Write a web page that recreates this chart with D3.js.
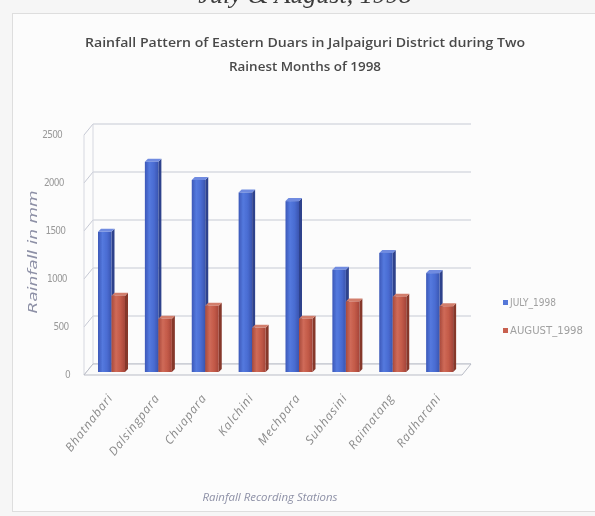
<!DOCTYPE html>
<html>
<head>
<meta charset="utf-8">
<script src="https://cdn.jsdelivr.net/npm/d3@7"></script>
<style>
  html, body { margin: 0; padding: 0; background: #f6f6f6; }
  svg { display: block; }
</style>
</head>
<body>
<div id="chart"></div>
<script>
// rainfall (mm)
const stations = ["Bhatnabari", "Dalsingpara", "Chuapara", "Kalchini", "Mechpara", "Subhasini", "Raimatang", "Radharani"]
const july = [1460, 2190, 2000, 1870, 1780, 1065, 1240, 1030]
const august = [795, 555, 690, 460, 555, 735, 785, 685]
const seriesNames = ["JULY_1998", "AUGUST_1998"]
const yTicks = [0, 500, 1000, 1500, 2000, 2500]

const width = 595
const height = 516
// 3d look: how far the back wall sits from the front edge
const depthX = 9
const depthY = -11

const svg = d3.select('#chart').append('svg')
  .attr('width', width)
  .attr('height', height)

const defs = svg.append('defs')
defs.append('filter').attr('id', 'soft')
  .append('feGaussianBlur').attr('stdDeviation', 0.4)

// horizontal gradients like the old excel columns
const grads = [
  { id: 'gBlue', stops: ['#3c58b8', '#5479de', '#4a6cd2', '#3a55b0'] },
  { id: 'gRed', stops: ['#a84a3c', '#cf6a58', '#c35a48', '#a5463a'] }
]
grads.forEach(g => {
  const lg = defs.append('linearGradient').attr('id', g.id)
    .attr('x1', 0).attr('x2', 1).attr('y1', 0).attr('y2', 0)
  g.stops.forEach((c, i) => lg.append('stop')
    .attr('offset', i / (g.stops.length - 1)).attr('stop-color', c))
})
const sideColor = ['#2e438c', '#86382c']
const topColor = ['#6f8be0', '#d27e6c']

const root = svg.append('g').attr('filter', 'url(#soft)')

// clipped caption from the page above the figure (cut off in the scan too)
root.append('text')
  .attr('x', 305).attr('y', 3)
  .attr('text-anchor', 'middle')
  .style('font', 'italic 26px "Liberation Serif", serif')
  .attr('fill', '#3a3a3a')
  .text('July & August, 1998')

// chart frame
root.append('rect')
  .attr('x', 12.5).attr('y', 13.5)
  .attr('width', 600).attr('height', 498)
  .attr('fill', '#fcfcfc')
  .attr('stroke', '#dedede')

// title
const titleLines = ['Rainfall Pattern of Eastern Duars in Jalpaiguri District during Two', 'Rainest Months of 1998']
const titleLen = [440, 152]
root.selectAll('text.title')
  .data(titleLines).enter().append('text')
  .attr('class', 'title')
  .attr('x', 305)
  .attr('y', (d, i) => 47 + i * 24)
  .attr('text-anchor', 'middle')
  .attr('textLength', (d, i) => titleLen[i])
  .attr('lengthAdjust', 'spacingAndGlyphs')
  .style('font', '600 13px "Open Sans", sans-serif')
  .attr('fill', '#4a4a4a')
  .text(d => d)

// scales
const x = d3.scaleBand()
  .domain(stations)
  .range([84, 459])
const xs = d3.scaleBand()
  .domain(seriesNames)
  .range([14, 41])
const y = d3.scaleLinear()
  .domain([0, 2500])
  .range([375, 135])

const wallLeft = 84 + depthX
const wallRight = 459 + depthX + 3

// back wall gridlines
root.selectAll('line.grid')
  .data(yTicks).enter().append('line')
  .attr('x1', wallLeft).attr('x2', wallRight)
  .attr('y1', d => y(d) + depthY).attr('y2', d => y(d) + depthY)
  .attr('stroke', '#c6c9d4')
  .attr('stroke-width', 1.2)

// side wall ticks
root.selectAll('line.side')
  .data(yTicks).enter().append('line')
  .attr('x1', 84).attr('x2', wallLeft)
  .attr('y1', d => y(d)).attr('y2', d => y(d) + depthY)
  .attr('stroke', '#c6c9d4')
root.append('line')
  .attr('x1', 84).attr('x2', 84)
  .attr('y1', y(0)).attr('y2', y(2500))
  .attr('stroke', '#d6d8e0')
root.append('line')
  .attr('x1', wallLeft).attr('x2', wallLeft)
  .attr('y1', y(0) + depthY).attr('y2', y(2500) + depthY)
  .attr('stroke', '#d6d8e0')

// floor
root.append('path')
  .attr('d', `M84,${y(0)}L${wallRight - depthX},${y(0)}L${wallRight},${y(0) + depthY}L${wallLeft},${y(0) + depthY}Z`)
  .attr('fill', '#fafafa')
  .attr('stroke', '#b9bcc6')

// y tick labels (they drift right a little towards the bottom)
root.selectAll('text.ytick')
  .data(yTicks).enter().append('text')
  .attr('class', 'ytick')
  .attr('x', d => 70 - d / 2500 * 8)
  .attr('y', d => y(d) + 3)
  .attr('text-anchor', 'end')
  .style('font', '10px "DejaVu Sans Condensed", sans-serif')
  .style('letter-spacing', '-0.8px')
  .attr('fill', '#9a9a9a')
  .text(d => d)

// bars: front face, side, top
const rows = stations.map((s, i) => ({ station: s, values: [july[i], august[i]] }))
const bw = xs.bandwidth()
const bd = 3   // bar depth
const baseOff = -3

rows.forEach(r => {
  r.values.forEach((v, k) => {
    const x0 = x(r.station) + xs(seriesNames[k])
    const yTop = y(v) + baseOff
    const yBase = y(0) + baseOff
    const g = root.append('g')
    g.append('path')
      .attr('d', `M${x0 + bw},${yTop}L${x0 + bw + bd},${yTop - bd}L${x0 + bw + bd},${yBase - bd}L${x0 + bw},${yBase}Z`)
      .attr('fill', sideColor[k])
    g.append('path')
      .attr('d', `M${x0},${yTop}L${x0 + bd},${yTop - bd}L${x0 + bw + bd},${yTop - bd}L${x0 + bw},${yTop}Z`)
      .attr('fill', topColor[k])
    g.append('rect')
      .attr('x', x0).attr('y', yTop)
      .attr('width', bw).attr('height', yBase - yTop)
      .attr('fill', k === 0 ? 'url(#gBlue)' : 'url(#gRed)')
  })
})

// category labels
root.selectAll('text.xtick')
  .data(stations).enter().append('text')
  .attr('class', 'xtick')
  .attr('transform', d => `translate(${x(d) + x.bandwidth() / 2 + 6},398) rotate(-52)`)
  .attr('text-anchor', 'end')
  .style('font', 'italic 12px "Open Sans", sans-serif')
  .style('letter-spacing', '0.9px')
  .attr('fill', '#8a8a8a')
  .text(d => d)

// axis titles
root.append('text')
  .attr('transform', 'translate(37,252) rotate(-90)')
  .attr('text-anchor', 'middle')
  .attr('textLength', 123)
  .attr('lengthAdjust', 'spacingAndGlyphs')
  .style('font', 'italic 12px "DejaVu Sans", sans-serif')
  .attr('fill', '#8d90a6')
  .text('Rainfall in mm')

root.append('text')
  .attr('x', 270).attr('y', 501)
  .attr('text-anchor', 'middle')
  .attr('textLength', 135)
  .attr('lengthAdjust', 'spacingAndGlyphs')
  .style('font', 'italic 11px "Open Sans", sans-serif')
  .attr('fill', '#8d90a6')
  .text('Rainfall Recording Stations')

// legend
const legend = root.selectAll('g.legend')
  .data(seriesNames).enter().append('g')
  .attr('class', 'legend')
  .attr('transform', (d, i) => `translate(503,${300 + i * 28})`)
legend.append('rect')
  .attr('width', 5).attr('height', 5)
  .attr('fill', (d, i) => i === 0 ? '#5577d8' : '#c8604f')
legend.append('text')
  .attr('x', 7).attr('y', 5.5)
  .attr('textLength', (d, i) => i === 0 ? 46 : 73)
  .attr('lengthAdjust', 'spacingAndGlyphs')
  .style('font', '10px "DejaVu Sans Condensed", sans-serif')
  .attr('fill', '#a0a0a0')
  .text(d => d)
</script>
</body>
</html>
